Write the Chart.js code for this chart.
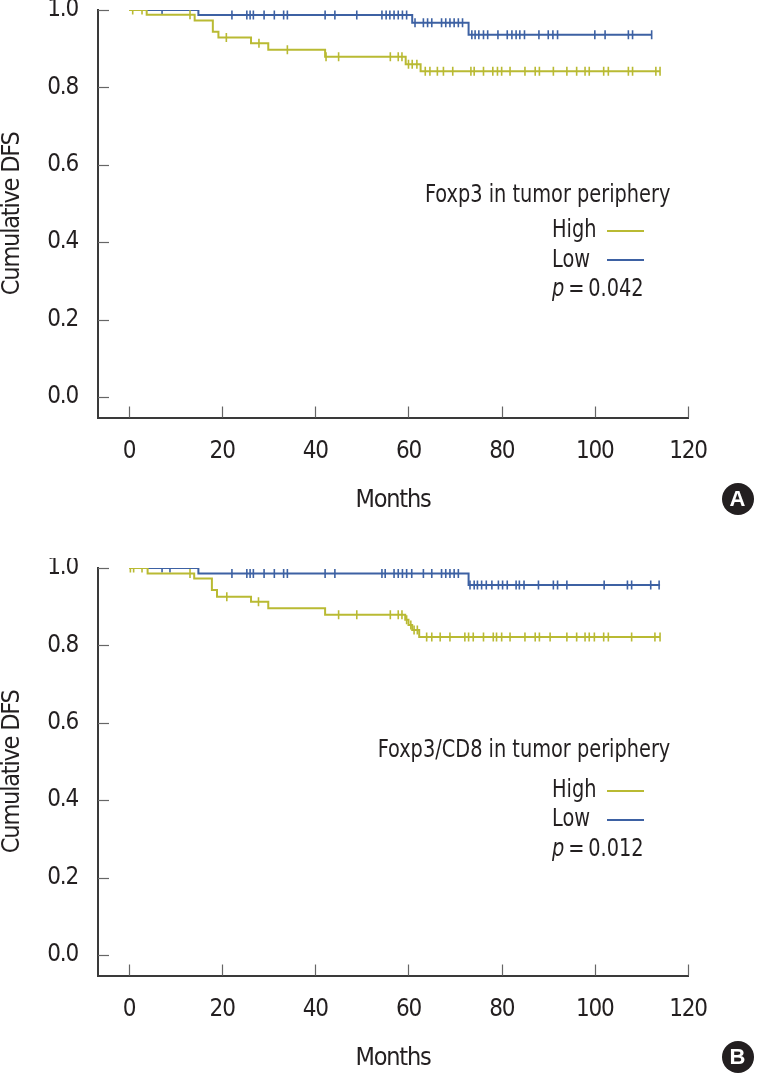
<!DOCTYPE html>
<html><head><meta charset="utf-8">
<script src="https://cdn.jsdelivr.net/npm/chart.js@4.4.1/dist/chart.umd.min.js"></script>
<style>
html,body{margin:0;padding:0;background:#fff;overflow:hidden;width:759px;height:1073px;}
.panel{position:absolute;left:0;width:759px;height:558px;}
canvas{position:absolute;left:0;top:0;}
.txt{position:absolute;font-family:'Liberation Sans Narrow','DejaVu Sans Condensed',sans-serif;font-size:25px;line-height:25px;color:#231f20;white-space:nowrap;transform:scaleX(0.86);transform-origin:0 0;}
.ttl{transform-origin:100% 0;}
.key{position:absolute;height:0;border-top:2px solid;width:37px;}
.badge{position:absolute;width:32px;height:32px;border-radius:50%;background:#231f20;color:#fff;font:bold 22px 'Liberation Sans',Arial,sans-serif;line-height:32px;text-align:center;}
</style></head>
<body>
<div class="panel" style="top:0"><canvas id="cA" width="759" height="558"></canvas></div>
<div class="panel" style="top:558px"><canvas id="cB" width="759" height="558"></canvas></div>

<div class="txt ttl" style="right:89px;top:180.5px">Foxp3 in tumor periphery</div>
<div class="txt" style="left:552px;top:215.5px">High</div>
<div class="key" style="left:607px;top:230px;border-color:#b9ba33"></div>
<div class="txt" style="left:552px;top:245.5px">Low</div>
<div class="key" style="left:607px;top:258.5px;border-color:#3d61a3"></div>
<div class="txt" style="left:552px;top:275px"><i>p</i>&thinsp;=&thinsp;0.042</div>
<div class="badge" style="left:721.5px;top:482.7px">A</div>

<div class="txt ttl" style="right:89px;top:736px">Foxp3/CD8 in tumor periphery</div>
<div class="txt" style="left:552px;top:776px">High</div>
<div class="key" style="left:607px;top:790px;border-color:#b9ba33"></div>
<div class="txt" style="left:552px;top:805px">Low</div>
<div class="key" style="left:607px;top:819px;border-color:#3d61a3"></div>
<div class="txt" style="left:552px;top:835px"><i>p</i>&thinsp;=&thinsp;0.012</div>
<div class="badge" style="left:721.5px;top:1040.7px">B</div>

<script>
// ---- axis ticks ----
const xTicks = [0, 20, 40, 60, 80, 100, 120];
const yTicks = [0, 0.2, 0.4, 0.6, 0.8, 1.0];
const yTickLabels = ['0.0', '0.2', '0.4', '0.6', '0.8', '1.0'];
const xTitle = 'Months';
const yTitle = 'Cumulative DFS';
const seriesNames = ['High', 'Low'];

// ---- Panel A: Foxp3 in tumor periphery ----
const highA_eventTimes = [3.8, 14.1, 18.0, 19.2, 26.2, 29.9, 42.1, 59.4, 62.6];
const highA_eventSurv  = [0.988, 0.973, 0.944, 0.929, 0.914, 0.897, 0.879, 0.860, 0.842];
const highA_end = 114.0;
const highA_censor = [0.8, 2.8, 13.1, 20.9, 27.9, 34.0, 42.3, 45.0, 56.1, 57.8, 58.6, 60.0, 60.8, 61.8,
  63.6, 64.6, 66.2, 67.5, 69.5, 73.4, 74.1, 76.1, 78.1, 79.1, 80.0, 81.8, 85.0, 87.2, 88.1, 91.1,
  94.0, 96.1, 97.9, 98.8, 101.9, 102.9, 107.2, 108.1, 113.1, 114.0];

const lowA_eventTimes = [14.9, 60.8, 72.9];
const lowA_eventSurv  = [0.987, 0.967, 0.936];
const lowA_end = 112.2;
const lowA_censor = [7.1, 22.1, 25.3, 26.0, 26.7, 29.0, 31.2, 33.2, 34.0, 42.1, 44.2, 48.9,
  54.3, 55.2, 56.0, 56.9, 57.8, 58.7, 59.6, 61.4, 63.2, 64.1, 65.0, 67.1, 68.0, 68.9, 69.8, 70.7, 71.6,
  73.6, 74.3, 75.1, 76.1, 77.0, 79.2, 81.2, 82.2, 83.1, 83.9, 84.9, 88.0, 90.0, 91.0, 92.0,
  100.0, 102.2, 107.2, 108.1, 112.2];

// ---- Panel B: Foxp3/CD8 in tumor periphery ----
const highB_eventTimes = [4.0, 14.0, 17.8, 18.9, 26.2, 29.9, 42.1, 59.3, 60.0, 60.8, 62.3];
const highB_eventSurv  = [0.986, 0.973, 0.943, 0.926, 0.913, 0.896, 0.879, 0.866, 0.853, 0.840, 0.822];
const highB_end = 114.0;
const highB_censor = [0.3, 1.0, 2.8, 13.1, 21.0, 27.8, 45.0, 48.9, 56.1, 57.8, 58.6, 59.6, 60.5, 61.2, 61.9,
  63.9, 65.0, 66.8, 68.9, 72.1, 72.9, 73.9, 76.1, 78.2, 78.9, 80.0, 81.8, 85.0, 87.2, 88.1, 90.4,
  94.0, 96.1, 97.9, 98.8, 99.9, 101.9, 102.9, 107.9, 112.9, 114.0];

const lowB_eventTimes = [14.9, 72.9];
const lowB_eventSurv  = [0.986, 0.956];
const lowB_end = 114.0;
const lowB_censor = [7.1, 8.8, 22.1, 25.3, 26.0, 26.7, 29.0, 31.2, 33.2, 34.0, 42.1, 44.2,
  54.3, 55.0, 56.9, 57.8, 58.7, 59.6, 60.7, 63.2, 65.0, 67.1, 68.0, 68.9, 69.8, 70.7,
  73.2, 74.1, 74.8, 75.7, 76.7, 77.9, 79.3, 80.2, 81.2, 83.1, 83.8, 84.8, 87.9, 91.1, 92.0, 94.0,
  102.0, 107.0, 107.9, 112.0, 113.8];

const colorHigh = '#b9ba33';
const colorLow = '#3d61a3';
const FONT = "'Liberation Sans Narrow','DejaVu Sans Condensed',sans-serif";
const TXT = '#231f20';

function curve(times, surv, end) {
  const pts = [{x: 0, y: 1}];
  times.forEach((t, i) => pts.push({x: t, y: surv[i]}));
  pts.push({x: end, y: surv[surv.length - 1]});
  return pts;
}
function levelAt(times, surv, t) {
  let v = 1;
  times.forEach((tt, i) => { if (tt <= t) v = surv[i]; });
  return v;
}
function censorPts(times, surv, cens) {
  return cens.map(t => ({x: t, y: levelAt(times, surv, t)}));
}

const tightText = {
  id: 'tightText',
  beforeDraw(chart) { try { chart.ctx.letterSpacing = '-1.2px'; } catch (e) {} }
};

const inwardTicks = {
  id: 'inwardTicks',
  afterDraw(chart) {
    const {ctx, chartArea, scales} = chart;
    ctx.save();
    ctx.strokeStyle = '#666';
    ctx.lineWidth = 1.2;
    yTicks.forEach(v => {
      const py = Math.round(scales.y.getPixelForValue(v)) + 0.5;
      ctx.beginPath(); ctx.moveTo(chartArea.left, py); ctx.lineTo(chartArea.left + 11, py); ctx.stroke();
    });
    xTicks.forEach(v => {
      const px = Math.round(scales.x.getPixelForValue(v)) + 0.5;
      ctx.beginPath(); ctx.moveTo(px, chartArea.bottom); ctx.lineTo(px, chartArea.bottom - 11); ctx.stroke();
    });
    ctx.restore();
  }
};

function makeChart(id, hi, lo) {
  const lineDs = (label, pts, color) => ({
    type: 'line', label, data: pts, borderColor: color, borderWidth: 2,
    stepped: true, pointRadius: 0, fill: false, showLine: true
  });
  const censDs = (label, pts, color) => ({
    type: 'scatter', label: label + ' censored', data: pts, borderColor: color, backgroundColor: color,
    pointStyle: 'line', rotation: 90, pointRadius: 4.5, pointBorderWidth: 1.6, showLine: false
  });
  new Chart(document.getElementById(id), {
    data: {
      datasets: [
        censDs(seriesNames[0], censorPts(hi.t, hi.s, hi.c), colorHigh),
        lineDs(seriesNames[0], curve(hi.t, hi.s, hi.e), colorHigh),
        censDs(seriesNames[1], censorPts(lo.t, lo.s, lo.c), colorLow),
        lineDs(seriesNames[1], curve(lo.t, lo.s, lo.e), colorLow)
      ]
    },
    options: {
      responsive: false, animation: false, devicePixelRatio: 1,
      layout: {padding: {left: 0, top: 10, right: 71, bottom: 0}},
      plugins: {legend: {display: false}, tooltip: {enabled: false}},
      scales: {
        x: {
          type: 'linear', min: -6.65, max: 120,
          grid: {display: false, drawTicks: false},
          border: {display: true, color: '#3a3a3a', width: 2},
          ticks: {color: TXT, font: {family: FONT, size: 24}, padding: 20, callback: v => String(v)},
          title: {display: true, text: xTitle, color: TXT, font: {family: FONT, size: 25, lineHeight: 1}, padding: {top: 0, bottom: 45}},
          afterBuildTicks: s => { s.ticks = xTicks.map(v => ({value: v})); },
          afterFit: s => { s.height = 140.5; s.paddingLeft = 0; s.paddingRight = 0; }
        },
        y: {
          type: 'linear', min: -0.053, max: 1.0,
          grid: {display: false, drawTicks: false},
          border: {display: true, color: '#3a3a3a', width: 2},
          ticks: {color: TXT, font: {family: FONT, size: 24}, padding: 20,
            callback: v => { const i = yTicks.findIndex(t => Math.abs(t - v) < 1e-6); return i >= 0 ? yTickLabels[i] : ''; }},
          title: {display: true, text: yTitle, color: TXT, font: {family: FONT, size: 25, lineHeight: 1}, padding: {top: 0, bottom: 0}},
          afterBuildTicks: s => { s.ticks = yTicks.map(v => ({value: v})); },
          afterFit: s => { s.width = 98; s.paddingTop = 0; s.paddingBottom = 0; }
        }
      }
    },
    plugins: [tightText, inwardTicks]
  });
}

makeChart('cA',
  {t: highA_eventTimes, s: highA_eventSurv, e: highA_end, c: highA_censor},
  {t: lowA_eventTimes, s: lowA_eventSurv, e: lowA_end, c: lowA_censor});
makeChart('cB',
  {t: highB_eventTimes, s: highB_eventSurv, e: highB_end, c: highB_censor},
  {t: lowB_eventTimes, s: lowB_eventSurv, e: lowB_end, c: lowB_censor});
</script>
</body></html>
